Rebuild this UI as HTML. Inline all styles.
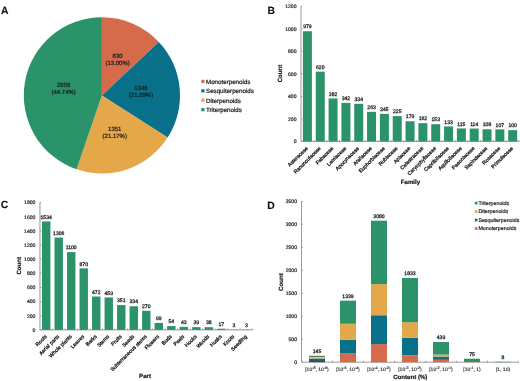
<!DOCTYPE html>
<html><head><meta charset="utf-8"><style>
html,body{margin:0;padding:0;background:#fff;}
svg{display:block;font-family:"Liberation Sans", sans-serif;will-change:transform;text-rendering:geometricPrecision;}
</style></head><body>
<svg width="520" height="381" viewBox="0 0 520 381">
<rect width="520" height="381" fill="#fff"/>
<text x="0.90" y="13.60" font-size="10.4" text-anchor="start" font-weight="bold" fill="#111" stroke="#111" stroke-width="0.1">A</text>
<path d="M101.9,95.4 L101.900,17.300 A78.1,78.1 0 0 1 158.844,41.949 Z" fill="#d56b4b"/>
<path d="M101.9,95.4 L158.844,41.949 A78.1,78.1 0 0 1 167.603,137.623 Z" fill="#087189"/>
<path d="M101.9,95.4 L167.603,137.623 A78.1,78.1 0 0 1 76.574,169.279 Z" fill="#e4a84b"/>
<path d="M101.9,95.4 L76.574,169.279 A78.1,78.1 0 0 1 101.900,17.300 Z" fill="#2b936a"/>
<text x="117.60" y="57.80" font-size="6.0" text-anchor="middle" font-weight="normal" fill="#1c1c1c" stroke="#1c1c1c" stroke-width="0.22">830</text>
<text x="117.60" y="64.90" font-size="6.0" text-anchor="middle" font-weight="normal" fill="#1c1c1c" stroke="#1c1c1c" stroke-width="0.22">(13.00%)</text>
<text x="141.00" y="90.00" font-size="6.0" text-anchor="middle" font-weight="normal" fill="#1c1c1c" stroke="#1c1c1c" stroke-width="0.22">1346</text>
<text x="141.00" y="97.10" font-size="6.0" text-anchor="middle" font-weight="normal" fill="#1c1c1c" stroke="#1c1c1c" stroke-width="0.22">(21.09%)</text>
<text x="114.80" y="130.60" font-size="6.0" text-anchor="middle" font-weight="normal" fill="#1c1c1c" stroke="#1c1c1c" stroke-width="0.22">1351</text>
<text x="114.80" y="137.70" font-size="6.0" text-anchor="middle" font-weight="normal" fill="#1c1c1c" stroke="#1c1c1c" stroke-width="0.22">(21.17%)</text>
<text x="63.70" y="87.30" font-size="6.0" text-anchor="middle" font-weight="normal" fill="#1c1c1c" stroke="#1c1c1c" stroke-width="0.22">2856</text>
<text x="63.70" y="94.40" font-size="6.0" text-anchor="middle" font-weight="normal" fill="#1c1c1c" stroke="#1c1c1c" stroke-width="0.22">(44.74%)</text>
<rect x="201.30" y="79.80" width="3.20" height="3.20" fill="#d56b4b"/>
<text x="206.00" y="83.70" font-size="6.2" text-anchor="start" font-weight="normal" fill="#1c1c1c" stroke="#1c1c1c" stroke-width="0.22">Monoterpenoids</text>
<rect x="201.30" y="89.23" width="3.20" height="3.20" fill="#087189"/>
<text x="206.00" y="93.13" font-size="6.2" text-anchor="start" font-weight="normal" fill="#1c1c1c" stroke="#1c1c1c" stroke-width="0.22">Sesquiterpenoids</text>
<rect x="201.30" y="98.66" width="3.20" height="3.20" fill="#e4a84b"/>
<text x="206.00" y="102.56" font-size="6.2" text-anchor="start" font-weight="normal" fill="#1c1c1c" stroke="#1c1c1c" stroke-width="0.22">Diterpenoids</text>
<rect x="201.30" y="108.09" width="3.20" height="3.20" fill="#2b936a"/>
<text x="206.00" y="111.99" font-size="6.2" text-anchor="start" font-weight="normal" fill="#1c1c1c" stroke="#1c1c1c" stroke-width="0.22">Triterpenoids</text>
<text x="267.40" y="13.60" font-size="10.4" text-anchor="start" font-weight="bold" fill="#111" stroke="#111" stroke-width="0.1">B</text>
<line x1="301.00" y1="6.40" x2="301.00" y2="141.40" stroke="#8f8f8f" stroke-width="0.9"/>
<line x1="301.00" y1="141.40" x2="519.11" y2="141.40" stroke="#8f8f8f" stroke-width="0.9"/>
<line x1="301.00" y1="141.40" x2="302.30" y2="141.40" stroke="#8f8f8f" stroke-width="0.9"/>
<text x="296.50" y="143.20" font-size="5.1" text-anchor="end" font-weight="normal" fill="#262626" stroke="#262626" stroke-width="0.2">0</text>
<line x1="301.00" y1="118.90" x2="302.30" y2="118.90" stroke="#8f8f8f" stroke-width="0.9"/>
<text x="296.50" y="120.70" font-size="5.1" text-anchor="end" font-weight="normal" fill="#262626" stroke="#262626" stroke-width="0.2">200</text>
<line x1="301.00" y1="96.40" x2="302.30" y2="96.40" stroke="#8f8f8f" stroke-width="0.9"/>
<text x="296.50" y="98.20" font-size="5.1" text-anchor="end" font-weight="normal" fill="#262626" stroke="#262626" stroke-width="0.2">400</text>
<line x1="301.00" y1="73.90" x2="302.30" y2="73.90" stroke="#8f8f8f" stroke-width="0.9"/>
<text x="296.50" y="75.70" font-size="5.1" text-anchor="end" font-weight="normal" fill="#262626" stroke="#262626" stroke-width="0.2">600</text>
<line x1="301.00" y1="51.40" x2="302.30" y2="51.40" stroke="#8f8f8f" stroke-width="0.9"/>
<text x="296.50" y="53.20" font-size="5.1" text-anchor="end" font-weight="normal" fill="#262626" stroke="#262626" stroke-width="0.2">800</text>
<line x1="301.00" y1="28.90" x2="302.30" y2="28.90" stroke="#8f8f8f" stroke-width="0.9"/>
<text x="296.50" y="30.70" font-size="5.1" text-anchor="end" font-weight="normal" fill="#262626" stroke="#262626" stroke-width="0.2">1000</text>
<line x1="301.00" y1="6.40" x2="302.30" y2="6.40" stroke="#8f8f8f" stroke-width="0.9"/>
<text x="296.50" y="8.20" font-size="5.1" text-anchor="end" font-weight="normal" fill="#262626" stroke="#262626" stroke-width="0.2">1200</text>
<line x1="313.83" y1="141.40" x2="313.83" y2="140.00" stroke="#8f8f8f" stroke-width="0.9"/>
<line x1="326.66" y1="141.40" x2="326.66" y2="140.00" stroke="#8f8f8f" stroke-width="0.9"/>
<line x1="339.49" y1="141.40" x2="339.49" y2="140.00" stroke="#8f8f8f" stroke-width="0.9"/>
<line x1="352.32" y1="141.40" x2="352.32" y2="140.00" stroke="#8f8f8f" stroke-width="0.9"/>
<line x1="365.15" y1="141.40" x2="365.15" y2="140.00" stroke="#8f8f8f" stroke-width="0.9"/>
<line x1="377.98" y1="141.40" x2="377.98" y2="140.00" stroke="#8f8f8f" stroke-width="0.9"/>
<line x1="390.81" y1="141.40" x2="390.81" y2="140.00" stroke="#8f8f8f" stroke-width="0.9"/>
<line x1="403.64" y1="141.40" x2="403.64" y2="140.00" stroke="#8f8f8f" stroke-width="0.9"/>
<line x1="416.47" y1="141.40" x2="416.47" y2="140.00" stroke="#8f8f8f" stroke-width="0.9"/>
<line x1="429.30" y1="141.40" x2="429.30" y2="140.00" stroke="#8f8f8f" stroke-width="0.9"/>
<line x1="442.13" y1="141.40" x2="442.13" y2="140.00" stroke="#8f8f8f" stroke-width="0.9"/>
<line x1="454.96" y1="141.40" x2="454.96" y2="140.00" stroke="#8f8f8f" stroke-width="0.9"/>
<line x1="467.79" y1="141.40" x2="467.79" y2="140.00" stroke="#8f8f8f" stroke-width="0.9"/>
<line x1="480.62" y1="141.40" x2="480.62" y2="140.00" stroke="#8f8f8f" stroke-width="0.9"/>
<line x1="493.45" y1="141.40" x2="493.45" y2="140.00" stroke="#8f8f8f" stroke-width="0.9"/>
<line x1="506.28" y1="141.40" x2="506.28" y2="140.00" stroke="#8f8f8f" stroke-width="0.9"/>
<line x1="519.11" y1="141.40" x2="519.11" y2="140.00" stroke="#8f8f8f" stroke-width="0.9"/>
<rect x="302.92" y="31.26" width="9.00" height="110.14" fill="#2b936a"/>
<text x="307.42" y="28.46" font-size="5.1" text-anchor="middle" font-weight="normal" fill="#1c1c1c" stroke="#1c1c1c" stroke-width="0.26">979</text>
<text x="308.22" y="148.60" font-size="5.15" text-anchor="end" font-weight="normal" fill="#1c1c1c" stroke="#1c1c1c" stroke-width="0.3" transform="rotate(-45 308.22 148.60)">Asteraceae</text>
<rect x="315.75" y="71.65" width="9.00" height="69.75" fill="#2b936a"/>
<text x="320.25" y="68.85" font-size="5.1" text-anchor="middle" font-weight="normal" fill="#1c1c1c" stroke="#1c1c1c" stroke-width="0.26">620</text>
<text x="321.05" y="148.60" font-size="5.15" text-anchor="end" font-weight="normal" fill="#1c1c1c" stroke="#1c1c1c" stroke-width="0.3" transform="rotate(-45 321.05 148.60)">Ranunculaceae</text>
<rect x="328.58" y="98.43" width="9.00" height="42.98" fill="#2b936a"/>
<text x="333.08" y="95.63" font-size="5.1" text-anchor="middle" font-weight="normal" fill="#1c1c1c" stroke="#1c1c1c" stroke-width="0.26">382</text>
<text x="333.88" y="148.60" font-size="5.15" text-anchor="end" font-weight="normal" fill="#1c1c1c" stroke="#1c1c1c" stroke-width="0.3" transform="rotate(-45 333.88 148.60)">Fabaceae</text>
<rect x="341.41" y="102.93" width="9.00" height="38.48" fill="#2b936a"/>
<text x="345.91" y="100.13" font-size="5.1" text-anchor="middle" font-weight="normal" fill="#1c1c1c" stroke="#1c1c1c" stroke-width="0.26">342</text>
<text x="346.71" y="148.60" font-size="5.15" text-anchor="end" font-weight="normal" fill="#1c1c1c" stroke="#1c1c1c" stroke-width="0.3" transform="rotate(-45 346.71 148.60)">Lamiaceae</text>
<rect x="354.24" y="103.83" width="9.00" height="37.58" fill="#2b936a"/>
<text x="358.74" y="101.03" font-size="5.1" text-anchor="middle" font-weight="normal" fill="#1c1c1c" stroke="#1c1c1c" stroke-width="0.26">334</text>
<text x="359.54" y="148.60" font-size="5.15" text-anchor="end" font-weight="normal" fill="#1c1c1c" stroke="#1c1c1c" stroke-width="0.3" transform="rotate(-45 359.54 148.60)">Apocynaceae</text>
<rect x="367.06" y="111.81" width="9.00" height="29.59" fill="#2b936a"/>
<text x="371.56" y="109.01" font-size="5.1" text-anchor="middle" font-weight="normal" fill="#1c1c1c" stroke="#1c1c1c" stroke-width="0.26">263</text>
<text x="372.37" y="148.60" font-size="5.15" text-anchor="end" font-weight="normal" fill="#1c1c1c" stroke="#1c1c1c" stroke-width="0.3" transform="rotate(-45 372.37 148.60)">Araliaceae</text>
<rect x="379.90" y="113.84" width="9.00" height="27.56" fill="#2b936a"/>
<text x="384.40" y="111.04" font-size="5.1" text-anchor="middle" font-weight="normal" fill="#1c1c1c" stroke="#1c1c1c" stroke-width="0.26">245</text>
<text x="385.20" y="148.60" font-size="5.15" text-anchor="end" font-weight="normal" fill="#1c1c1c" stroke="#1c1c1c" stroke-width="0.3" transform="rotate(-45 385.20 148.60)">Euphorbiaceae</text>
<rect x="392.73" y="116.09" width="9.00" height="25.31" fill="#2b936a"/>
<text x="397.23" y="113.29" font-size="5.1" text-anchor="middle" font-weight="normal" fill="#1c1c1c" stroke="#1c1c1c" stroke-width="0.26">225</text>
<text x="398.03" y="148.60" font-size="5.15" text-anchor="end" font-weight="normal" fill="#1c1c1c" stroke="#1c1c1c" stroke-width="0.3" transform="rotate(-45 398.03 148.60)">Rubiaceae</text>
<rect x="405.56" y="121.26" width="9.00" height="20.14" fill="#2b936a"/>
<text x="410.06" y="118.46" font-size="5.1" text-anchor="middle" font-weight="normal" fill="#1c1c1c" stroke="#1c1c1c" stroke-width="0.26">179</text>
<text x="410.86" y="148.60" font-size="5.15" text-anchor="end" font-weight="normal" fill="#1c1c1c" stroke="#1c1c1c" stroke-width="0.3" transform="rotate(-45 410.86 148.60)">Apiaceae</text>
<rect x="418.39" y="123.18" width="9.00" height="18.23" fill="#2b936a"/>
<text x="422.89" y="120.38" font-size="5.1" text-anchor="middle" font-weight="normal" fill="#1c1c1c" stroke="#1c1c1c" stroke-width="0.26">162</text>
<text x="423.69" y="148.60" font-size="5.15" text-anchor="end" font-weight="normal" fill="#1c1c1c" stroke="#1c1c1c" stroke-width="0.3" transform="rotate(-45 423.69 148.60)">Celastraceae</text>
<rect x="431.22" y="124.19" width="9.00" height="17.21" fill="#2b936a"/>
<text x="435.72" y="121.39" font-size="5.1" text-anchor="middle" font-weight="normal" fill="#1c1c1c" stroke="#1c1c1c" stroke-width="0.26">153</text>
<text x="436.52" y="148.60" font-size="5.15" text-anchor="end" font-weight="normal" fill="#1c1c1c" stroke="#1c1c1c" stroke-width="0.3" transform="rotate(-45 436.52 148.60)">Caryophyllaceae</text>
<rect x="444.05" y="126.44" width="9.00" height="14.96" fill="#2b936a"/>
<text x="448.55" y="123.64" font-size="5.1" text-anchor="middle" font-weight="normal" fill="#1c1c1c" stroke="#1c1c1c" stroke-width="0.26">133</text>
<text x="449.35" y="148.60" font-size="5.15" text-anchor="end" font-weight="normal" fill="#1c1c1c" stroke="#1c1c1c" stroke-width="0.3" transform="rotate(-45 449.35 148.60)">Caprifoliaceae</text>
<rect x="456.88" y="128.46" width="9.00" height="12.94" fill="#2b936a"/>
<text x="461.38" y="125.66" font-size="5.1" text-anchor="middle" font-weight="normal" fill="#1c1c1c" stroke="#1c1c1c" stroke-width="0.26">115</text>
<text x="462.18" y="148.60" font-size="5.15" text-anchor="end" font-weight="normal" fill="#1c1c1c" stroke="#1c1c1c" stroke-width="0.3" transform="rotate(-45 462.18 148.60)">Aquifoliaceae</text>
<rect x="469.70" y="128.58" width="9.00" height="12.83" fill="#2b936a"/>
<text x="474.20" y="125.78" font-size="5.1" text-anchor="middle" font-weight="normal" fill="#1c1c1c" stroke="#1c1c1c" stroke-width="0.26">114</text>
<text x="475.00" y="148.60" font-size="5.15" text-anchor="end" font-weight="normal" fill="#1c1c1c" stroke="#1c1c1c" stroke-width="0.3" transform="rotate(-45 475.00 148.60)">Paeoniaceae</text>
<rect x="482.54" y="129.25" width="9.00" height="12.15" fill="#2b936a"/>
<text x="487.04" y="126.45" font-size="5.1" text-anchor="middle" font-weight="normal" fill="#1c1c1c" stroke="#1c1c1c" stroke-width="0.26">108</text>
<text x="487.84" y="148.60" font-size="5.15" text-anchor="end" font-weight="normal" fill="#1c1c1c" stroke="#1c1c1c" stroke-width="0.3" transform="rotate(-45 487.84 148.60)">Sapindaceae</text>
<rect x="495.37" y="129.36" width="9.00" height="12.04" fill="#2b936a"/>
<text x="499.87" y="126.56" font-size="5.1" text-anchor="middle" font-weight="normal" fill="#1c1c1c" stroke="#1c1c1c" stroke-width="0.26">107</text>
<text x="500.67" y="148.60" font-size="5.15" text-anchor="end" font-weight="normal" fill="#1c1c1c" stroke="#1c1c1c" stroke-width="0.3" transform="rotate(-45 500.67 148.60)">Rosaceae</text>
<rect x="508.19" y="130.15" width="9.00" height="11.25" fill="#2b936a"/>
<text x="512.69" y="127.35" font-size="5.1" text-anchor="middle" font-weight="normal" fill="#1c1c1c" stroke="#1c1c1c" stroke-width="0.26">100</text>
<text x="513.49" y="148.60" font-size="5.15" text-anchor="end" font-weight="normal" fill="#1c1c1c" stroke="#1c1c1c" stroke-width="0.3" transform="rotate(-45 513.49 148.60)">Primulaceae</text>
<text x="282.10" y="73.50" font-size="6.1" text-anchor="middle" font-weight="bold" fill="#111" stroke="#111" stroke-width="0.18" transform="rotate(-90 282.10 73.50)">Count</text>
<text x="410.50" y="184.10" font-size="6.1" text-anchor="middle" font-weight="bold" fill="#111" stroke="#111" stroke-width="0.18">Family</text>
<text x="0.70" y="208.30" font-size="10.4" text-anchor="start" font-weight="bold" fill="#111" stroke="#111" stroke-width="0.1">C</text>
<line x1="39.95" y1="202.60" x2="39.95" y2="329.90" stroke="#8f8f8f" stroke-width="0.9"/>
<line x1="39.95" y1="329.90" x2="252.62" y2="329.90" stroke="#8f8f8f" stroke-width="0.9"/>
<line x1="39.95" y1="329.90" x2="41.25" y2="329.90" stroke="#8f8f8f" stroke-width="0.9"/>
<text x="35.45" y="331.70" font-size="5.1" text-anchor="end" font-weight="normal" fill="#262626" stroke="#262626" stroke-width="0.2">0</text>
<line x1="39.95" y1="315.76" x2="41.25" y2="315.76" stroke="#8f8f8f" stroke-width="0.9"/>
<text x="35.45" y="317.56" font-size="5.1" text-anchor="end" font-weight="normal" fill="#262626" stroke="#262626" stroke-width="0.2">200</text>
<line x1="39.95" y1="301.61" x2="41.25" y2="301.61" stroke="#8f8f8f" stroke-width="0.9"/>
<text x="35.45" y="303.41" font-size="5.1" text-anchor="end" font-weight="normal" fill="#262626" stroke="#262626" stroke-width="0.2">400</text>
<line x1="39.95" y1="287.47" x2="41.25" y2="287.47" stroke="#8f8f8f" stroke-width="0.9"/>
<text x="35.45" y="289.27" font-size="5.1" text-anchor="end" font-weight="normal" fill="#262626" stroke="#262626" stroke-width="0.2">600</text>
<line x1="39.95" y1="273.32" x2="41.25" y2="273.32" stroke="#8f8f8f" stroke-width="0.9"/>
<text x="35.45" y="275.12" font-size="5.1" text-anchor="end" font-weight="normal" fill="#262626" stroke="#262626" stroke-width="0.2">800</text>
<line x1="39.95" y1="259.18" x2="41.25" y2="259.18" stroke="#8f8f8f" stroke-width="0.9"/>
<text x="35.45" y="260.98" font-size="5.1" text-anchor="end" font-weight="normal" fill="#262626" stroke="#262626" stroke-width="0.2">1000</text>
<line x1="39.95" y1="245.03" x2="41.25" y2="245.03" stroke="#8f8f8f" stroke-width="0.9"/>
<text x="35.45" y="246.83" font-size="5.1" text-anchor="end" font-weight="normal" fill="#262626" stroke="#262626" stroke-width="0.2">1200</text>
<line x1="39.95" y1="230.89" x2="41.25" y2="230.89" stroke="#8f8f8f" stroke-width="0.9"/>
<text x="35.45" y="232.69" font-size="5.1" text-anchor="end" font-weight="normal" fill="#262626" stroke="#262626" stroke-width="0.2">1400</text>
<line x1="39.95" y1="216.74" x2="41.25" y2="216.74" stroke="#8f8f8f" stroke-width="0.9"/>
<text x="35.45" y="218.54" font-size="5.1" text-anchor="end" font-weight="normal" fill="#262626" stroke="#262626" stroke-width="0.2">1600</text>
<line x1="39.95" y1="202.60" x2="41.25" y2="202.60" stroke="#8f8f8f" stroke-width="0.9"/>
<text x="35.45" y="204.40" font-size="5.1" text-anchor="end" font-weight="normal" fill="#262626" stroke="#262626" stroke-width="0.2">1800</text>
<line x1="52.46" y1="329.90" x2="52.46" y2="328.50" stroke="#8f8f8f" stroke-width="0.9"/>
<line x1="64.97" y1="329.90" x2="64.97" y2="328.50" stroke="#8f8f8f" stroke-width="0.9"/>
<line x1="77.48" y1="329.90" x2="77.48" y2="328.50" stroke="#8f8f8f" stroke-width="0.9"/>
<line x1="89.99" y1="329.90" x2="89.99" y2="328.50" stroke="#8f8f8f" stroke-width="0.9"/>
<line x1="102.50" y1="329.90" x2="102.50" y2="328.50" stroke="#8f8f8f" stroke-width="0.9"/>
<line x1="115.01" y1="329.90" x2="115.01" y2="328.50" stroke="#8f8f8f" stroke-width="0.9"/>
<line x1="127.52" y1="329.90" x2="127.52" y2="328.50" stroke="#8f8f8f" stroke-width="0.9"/>
<line x1="140.03" y1="329.90" x2="140.03" y2="328.50" stroke="#8f8f8f" stroke-width="0.9"/>
<line x1="152.54" y1="329.90" x2="152.54" y2="328.50" stroke="#8f8f8f" stroke-width="0.9"/>
<line x1="165.05" y1="329.90" x2="165.05" y2="328.50" stroke="#8f8f8f" stroke-width="0.9"/>
<line x1="177.56" y1="329.90" x2="177.56" y2="328.50" stroke="#8f8f8f" stroke-width="0.9"/>
<line x1="190.07" y1="329.90" x2="190.07" y2="328.50" stroke="#8f8f8f" stroke-width="0.9"/>
<line x1="202.58" y1="329.90" x2="202.58" y2="328.50" stroke="#8f8f8f" stroke-width="0.9"/>
<line x1="215.09" y1="329.90" x2="215.09" y2="328.50" stroke="#8f8f8f" stroke-width="0.9"/>
<line x1="227.60" y1="329.90" x2="227.60" y2="328.50" stroke="#8f8f8f" stroke-width="0.9"/>
<line x1="240.11" y1="329.90" x2="240.11" y2="328.50" stroke="#8f8f8f" stroke-width="0.9"/>
<line x1="252.62" y1="329.90" x2="252.62" y2="328.50" stroke="#8f8f8f" stroke-width="0.9"/>
<rect x="42.01" y="221.41" width="8.40" height="108.49" fill="#2b936a"/>
<text x="46.21" y="218.61" font-size="5.1" text-anchor="middle" font-weight="normal" fill="#1c1c1c" stroke="#1c1c1c" stroke-width="0.26">1534</text>
<text x="47.01" y="337.00" font-size="5.15" text-anchor="end" font-weight="normal" fill="#1c1c1c" stroke="#1c1c1c" stroke-width="0.3" transform="rotate(-45 47.01 337.00)">Roots</text>
<rect x="54.52" y="237.54" width="8.40" height="92.36" fill="#2b936a"/>
<text x="58.72" y="234.74" font-size="5.1" text-anchor="middle" font-weight="normal" fill="#1c1c1c" stroke="#1c1c1c" stroke-width="0.26">1306</text>
<text x="59.52" y="337.00" font-size="5.15" text-anchor="end" font-weight="normal" fill="#1c1c1c" stroke="#1c1c1c" stroke-width="0.3" transform="rotate(-45 59.52 337.00)">Aerial parts</text>
<rect x="67.03" y="252.11" width="8.40" height="77.79" fill="#2b936a"/>
<text x="71.23" y="249.31" font-size="5.1" text-anchor="middle" font-weight="normal" fill="#1c1c1c" stroke="#1c1c1c" stroke-width="0.26">1100</text>
<text x="72.03" y="337.00" font-size="5.15" text-anchor="end" font-weight="normal" fill="#1c1c1c" stroke="#1c1c1c" stroke-width="0.3" transform="rotate(-45 72.03 337.00)">Whole plants</text>
<rect x="79.53" y="268.37" width="8.40" height="61.53" fill="#2b936a"/>
<text x="83.73" y="265.57" font-size="5.1" text-anchor="middle" font-weight="normal" fill="#1c1c1c" stroke="#1c1c1c" stroke-width="0.26">870</text>
<text x="84.53" y="337.00" font-size="5.15" text-anchor="end" font-weight="normal" fill="#1c1c1c" stroke="#1c1c1c" stroke-width="0.3" transform="rotate(-45 84.53 337.00)">Leaves</text>
<rect x="92.05" y="296.52" width="8.40" height="33.38" fill="#2b936a"/>
<text x="96.25" y="293.72" font-size="5.1" text-anchor="middle" font-weight="normal" fill="#1c1c1c" stroke="#1c1c1c" stroke-width="0.26">472</text>
<text x="97.05" y="337.00" font-size="5.15" text-anchor="end" font-weight="normal" fill="#1c1c1c" stroke="#1c1c1c" stroke-width="0.3" transform="rotate(-45 97.05 337.00)">Barks</text>
<rect x="104.56" y="297.44" width="8.40" height="32.46" fill="#2b936a"/>
<text x="108.76" y="294.64" font-size="5.1" text-anchor="middle" font-weight="normal" fill="#1c1c1c" stroke="#1c1c1c" stroke-width="0.26">459</text>
<text x="109.56" y="337.00" font-size="5.15" text-anchor="end" font-weight="normal" fill="#1c1c1c" stroke="#1c1c1c" stroke-width="0.3" transform="rotate(-45 109.56 337.00)">Stems</text>
<rect x="117.06" y="305.08" width="8.40" height="24.82" fill="#2b936a"/>
<text x="121.27" y="302.28" font-size="5.1" text-anchor="middle" font-weight="normal" fill="#1c1c1c" stroke="#1c1c1c" stroke-width="0.26">351</text>
<text x="122.06" y="337.00" font-size="5.15" text-anchor="end" font-weight="normal" fill="#1c1c1c" stroke="#1c1c1c" stroke-width="0.3" transform="rotate(-45 122.06 337.00)">Fruits</text>
<rect x="129.57" y="306.28" width="8.40" height="23.62" fill="#2b936a"/>
<text x="133.77" y="303.48" font-size="5.1" text-anchor="middle" font-weight="normal" fill="#1c1c1c" stroke="#1c1c1c" stroke-width="0.26">334</text>
<text x="134.57" y="337.00" font-size="5.15" text-anchor="end" font-weight="normal" fill="#1c1c1c" stroke="#1c1c1c" stroke-width="0.3" transform="rotate(-45 134.57 337.00)">Seeds</text>
<rect x="142.09" y="310.80" width="8.40" height="19.09" fill="#2b936a"/>
<text x="146.28" y="308.00" font-size="5.1" text-anchor="middle" font-weight="normal" fill="#1c1c1c" stroke="#1c1c1c" stroke-width="0.26">270</text>
<text x="147.09" y="337.00" font-size="5.15" text-anchor="end" font-weight="normal" fill="#1c1c1c" stroke="#1c1c1c" stroke-width="0.3" transform="rotate(-45 147.09 337.00)">Subterraneous stems</text>
<rect x="154.60" y="322.90" width="8.40" height="7.00" fill="#2b936a"/>
<text x="158.80" y="320.10" font-size="5.1" text-anchor="middle" font-weight="normal" fill="#1c1c1c" stroke="#1c1c1c" stroke-width="0.26">99</text>
<text x="159.60" y="337.00" font-size="5.15" text-anchor="end" font-weight="normal" fill="#1c1c1c" stroke="#1c1c1c" stroke-width="0.3" transform="rotate(-45 159.60 337.00)">Flowers</text>
<rect x="167.11" y="326.08" width="8.40" height="3.82" fill="#2b936a"/>
<text x="171.31" y="323.28" font-size="5.1" text-anchor="middle" font-weight="normal" fill="#1c1c1c" stroke="#1c1c1c" stroke-width="0.26">54</text>
<text x="172.11" y="337.00" font-size="5.15" text-anchor="end" font-weight="normal" fill="#1c1c1c" stroke="#1c1c1c" stroke-width="0.3" transform="rotate(-45 172.11 337.00)">Buds</text>
<rect x="179.62" y="326.86" width="8.40" height="3.04" fill="#2b936a"/>
<text x="183.81" y="324.06" font-size="5.1" text-anchor="middle" font-weight="normal" fill="#1c1c1c" stroke="#1c1c1c" stroke-width="0.26">43</text>
<text x="184.62" y="337.00" font-size="5.15" text-anchor="end" font-weight="normal" fill="#1c1c1c" stroke="#1c1c1c" stroke-width="0.3" transform="rotate(-45 184.62 337.00)">Peels</text>
<rect x="192.12" y="327.14" width="8.40" height="2.76" fill="#2b936a"/>
<text x="196.32" y="324.34" font-size="5.1" text-anchor="middle" font-weight="normal" fill="#1c1c1c" stroke="#1c1c1c" stroke-width="0.26">39</text>
<text x="197.12" y="337.00" font-size="5.15" text-anchor="end" font-weight="normal" fill="#1c1c1c" stroke="#1c1c1c" stroke-width="0.3" transform="rotate(-45 197.12 337.00)">Hooks</text>
<rect x="204.63" y="327.21" width="8.40" height="2.69" fill="#2b936a"/>
<text x="208.83" y="324.41" font-size="5.1" text-anchor="middle" font-weight="normal" fill="#1c1c1c" stroke="#1c1c1c" stroke-width="0.26">38</text>
<text x="209.63" y="337.00" font-size="5.15" text-anchor="end" font-weight="normal" fill="#1c1c1c" stroke="#1c1c1c" stroke-width="0.3" transform="rotate(-45 209.63 337.00)">Woods</text>
<rect x="217.14" y="328.70" width="8.40" height="1.20" fill="#2b936a"/>
<text x="221.34" y="325.90" font-size="5.1" text-anchor="middle" font-weight="normal" fill="#1c1c1c" stroke="#1c1c1c" stroke-width="0.26">17</text>
<text x="222.14" y="337.00" font-size="5.15" text-anchor="end" font-weight="normal" fill="#1c1c1c" stroke="#1c1c1c" stroke-width="0.3" transform="rotate(-45 222.14 337.00)">Husks</text>
<rect x="229.66" y="329.69" width="8.40" height="0.21" fill="#2b936a"/>
<text x="233.86" y="326.89" font-size="5.1" text-anchor="middle" font-weight="normal" fill="#1c1c1c" stroke="#1c1c1c" stroke-width="0.26">3</text>
<text x="234.66" y="337.00" font-size="5.15" text-anchor="end" font-weight="normal" fill="#1c1c1c" stroke="#1c1c1c" stroke-width="0.3" transform="rotate(-45 234.66 337.00)">Knots</text>
<rect x="242.17" y="329.69" width="8.40" height="0.21" fill="#2b936a"/>
<text x="246.37" y="326.89" font-size="5.1" text-anchor="middle" font-weight="normal" fill="#1c1c1c" stroke="#1c1c1c" stroke-width="0.26">3</text>
<text x="247.17" y="337.00" font-size="5.15" text-anchor="end" font-weight="normal" fill="#1c1c1c" stroke="#1c1c1c" stroke-width="0.3" transform="rotate(-45 247.17 337.00)">Seedling</text>
<text x="20.90" y="265.80" font-size="6.1" text-anchor="middle" font-weight="bold" fill="#111" stroke="#111" stroke-width="0.18" transform="rotate(-90 20.90 265.80)">Count</text>
<text x="145.00" y="377.70" font-size="6.1" text-anchor="middle" font-weight="bold" fill="#111" stroke="#111" stroke-width="0.18">Part</text>
<text x="267.30" y="209.20" font-size="10.4" text-anchor="start" font-weight="bold" fill="#111" stroke="#111" stroke-width="0.1">D</text>
<line x1="301.50" y1="201.40" x2="301.50" y2="362.20" stroke="#8f8f8f" stroke-width="0.9"/>
<line x1="301.50" y1="362.20" x2="518.50" y2="362.20" stroke="#8f8f8f" stroke-width="0.9"/>
<line x1="301.50" y1="362.20" x2="302.80" y2="362.20" stroke="#8f8f8f" stroke-width="0.9"/>
<text x="297.00" y="364.00" font-size="5.1" text-anchor="end" font-weight="normal" fill="#262626" stroke="#262626" stroke-width="0.2">0</text>
<line x1="301.50" y1="339.23" x2="302.80" y2="339.23" stroke="#8f8f8f" stroke-width="0.9"/>
<text x="297.00" y="341.03" font-size="5.1" text-anchor="end" font-weight="normal" fill="#262626" stroke="#262626" stroke-width="0.2">500</text>
<line x1="301.50" y1="316.26" x2="302.80" y2="316.26" stroke="#8f8f8f" stroke-width="0.9"/>
<text x="297.00" y="318.06" font-size="5.1" text-anchor="end" font-weight="normal" fill="#262626" stroke="#262626" stroke-width="0.2">1000</text>
<line x1="301.50" y1="293.29" x2="302.80" y2="293.29" stroke="#8f8f8f" stroke-width="0.9"/>
<text x="297.00" y="295.09" font-size="5.1" text-anchor="end" font-weight="normal" fill="#262626" stroke="#262626" stroke-width="0.2">1500</text>
<line x1="301.50" y1="270.31" x2="302.80" y2="270.31" stroke="#8f8f8f" stroke-width="0.9"/>
<text x="297.00" y="272.11" font-size="5.1" text-anchor="end" font-weight="normal" fill="#262626" stroke="#262626" stroke-width="0.2">2000</text>
<line x1="301.50" y1="247.34" x2="302.80" y2="247.34" stroke="#8f8f8f" stroke-width="0.9"/>
<text x="297.00" y="249.14" font-size="5.1" text-anchor="end" font-weight="normal" fill="#262626" stroke="#262626" stroke-width="0.2">2500</text>
<line x1="301.50" y1="224.37" x2="302.80" y2="224.37" stroke="#8f8f8f" stroke-width="0.9"/>
<text x="297.00" y="226.17" font-size="5.1" text-anchor="end" font-weight="normal" fill="#262626" stroke="#262626" stroke-width="0.2">3000</text>
<line x1="301.50" y1="201.40" x2="302.80" y2="201.40" stroke="#8f8f8f" stroke-width="0.9"/>
<text x="297.00" y="203.20" font-size="5.1" text-anchor="end" font-weight="normal" fill="#262626" stroke="#262626" stroke-width="0.2">3500</text>
<line x1="332.50" y1="362.20" x2="332.50" y2="360.80" stroke="#8f8f8f" stroke-width="0.9"/>
<line x1="363.50" y1="362.20" x2="363.50" y2="360.80" stroke="#8f8f8f" stroke-width="0.9"/>
<line x1="394.50" y1="362.20" x2="394.50" y2="360.80" stroke="#8f8f8f" stroke-width="0.9"/>
<line x1="425.50" y1="362.20" x2="425.50" y2="360.80" stroke="#8f8f8f" stroke-width="0.9"/>
<line x1="456.50" y1="362.20" x2="456.50" y2="360.80" stroke="#8f8f8f" stroke-width="0.9"/>
<line x1="487.50" y1="362.20" x2="487.50" y2="360.80" stroke="#8f8f8f" stroke-width="0.9"/>
<line x1="518.50" y1="362.20" x2="518.50" y2="360.80" stroke="#8f8f8f" stroke-width="0.9"/>
<rect x="309.00" y="355.80" width="16.00" height="1.10" fill="#2f6e44"/>
<rect x="309.00" y="356.90" width="16.00" height="1.90" fill="#c9d08c"/>
<rect x="309.00" y="358.80" width="16.00" height="1.10" fill="#3e3f33"/>
<rect x="309.00" y="359.90" width="16.00" height="2.30" fill="#34506e"/>
<text x="317.00" y="352.54" font-size="5.1" text-anchor="middle" font-weight="normal" fill="#1c1c1c" stroke="#1c1c1c" stroke-width="0.26">145</text>
<text x="317.00" y="371.00" font-size="5.0" text-anchor="middle" font-weight="normal" fill="#1c1c1c" stroke="#1c1c1c" stroke-width="0.12">[10<tspan dy="-2" font-size="3.7">-8</tspan><tspan dy="2">, 10</tspan><tspan dy="-2" font-size="3.7">-6</tspan><tspan dy="2">)</tspan></text>
<rect x="340.00" y="353.15" width="16.00" height="9.05" fill="#d56b4b"/>
<rect x="340.00" y="339.78" width="16.00" height="13.37" fill="#087189"/>
<rect x="340.00" y="323.79" width="16.00" height="15.99" fill="#e4a84b"/>
<rect x="340.00" y="300.68" width="16.00" height="23.11" fill="#2b936a"/>
<text x="348.00" y="297.68" font-size="5.1" text-anchor="middle" font-weight="normal" fill="#1c1c1c" stroke="#1c1c1c" stroke-width="0.26">1339</text>
<text x="348.00" y="371.00" font-size="5.0" text-anchor="middle" font-weight="normal" fill="#1c1c1c" stroke="#1c1c1c" stroke-width="0.12">[10<tspan dy="-2" font-size="3.7">-6</tspan><tspan dy="2">, 10</tspan><tspan dy="-2" font-size="3.7">-4</tspan><tspan dy="2">)</tspan></text>
<rect x="371.00" y="344.10" width="16.00" height="18.10" fill="#d56b4b"/>
<rect x="371.00" y="315.25" width="16.00" height="28.85" fill="#087189"/>
<rect x="371.00" y="284.10" width="16.00" height="31.15" fill="#e4a84b"/>
<rect x="371.00" y="220.70" width="16.00" height="63.40" fill="#2b936a"/>
<text x="379.00" y="217.70" font-size="5.1" text-anchor="middle" font-weight="normal" fill="#1c1c1c" stroke="#1c1c1c" stroke-width="0.26">3080</text>
<text x="379.00" y="371.00" font-size="5.0" text-anchor="middle" font-weight="normal" fill="#1c1c1c" stroke="#1c1c1c" stroke-width="0.12">[10<tspan dy="-2" font-size="3.7">-4</tspan><tspan dy="2">, 10</tspan><tspan dy="-2" font-size="3.7">-3</tspan><tspan dy="2">)</tspan></text>
<rect x="402.00" y="355.26" width="16.00" height="6.94" fill="#d56b4b"/>
<rect x="402.00" y="337.76" width="16.00" height="17.50" fill="#087189"/>
<rect x="402.00" y="322.28" width="16.00" height="15.48" fill="#e4a84b"/>
<rect x="402.00" y="277.99" width="16.00" height="44.29" fill="#2b936a"/>
<text x="410.00" y="274.99" font-size="5.1" text-anchor="middle" font-weight="normal" fill="#1c1c1c" stroke="#1c1c1c" stroke-width="0.26">1833</text>
<text x="410.00" y="371.00" font-size="5.0" text-anchor="middle" font-weight="normal" fill="#1c1c1c" stroke="#1c1c1c" stroke-width="0.12">[10<tspan dy="-2" font-size="3.7">-3</tspan><tspan dy="2">, 10</tspan><tspan dy="-2" font-size="3.7">-2</tspan><tspan dy="2">)</tspan></text>
<rect x="433.00" y="359.81" width="16.00" height="2.39" fill="#d56b4b"/>
<rect x="433.00" y="356.59" width="16.00" height="3.22" fill="#087189"/>
<rect x="433.00" y="354.57" width="16.00" height="2.02" fill="#e4a84b"/>
<rect x="433.00" y="342.03" width="16.00" height="12.54" fill="#2b936a"/>
<text x="441.00" y="339.03" font-size="5.1" text-anchor="middle" font-weight="normal" fill="#1c1c1c" stroke="#1c1c1c" stroke-width="0.26">439</text>
<text x="441.00" y="371.00" font-size="5.0" text-anchor="middle" font-weight="normal" fill="#1c1c1c" stroke="#1c1c1c" stroke-width="0.12">[10<tspan dy="-2" font-size="3.7">-2</tspan><tspan dy="2">, 10</tspan><tspan dy="-2" font-size="3.7">-1</tspan><tspan dy="2">)</tspan></text>
<rect x="464.00" y="361.97" width="16.00" height="0.23" fill="#e4a84b"/>
<rect x="464.00" y="358.75" width="16.00" height="3.22" fill="#2b936a"/>
<text x="472.00" y="355.75" font-size="5.1" text-anchor="middle" font-weight="normal" fill="#1c1c1c" stroke="#1c1c1c" stroke-width="0.26">75</text>
<text x="472.00" y="371.00" font-size="5.0" text-anchor="middle" font-weight="normal" fill="#1c1c1c" stroke="#1c1c1c" stroke-width="0.12">[10<tspan dy="-2" font-size="3.7">-1</tspan><tspan dy="2">, 1)</tspan></text>
<rect x="495.00" y="361.83" width="16.00" height="0.37" fill="#2b936a"/>
<text x="503.00" y="358.83" font-size="5.1" text-anchor="middle" font-weight="normal" fill="#1c1c1c" stroke="#1c1c1c" stroke-width="0.26">8</text>
<text x="503.00" y="371.00" font-size="5.0" text-anchor="middle" font-weight="normal" fill="#1c1c1c" stroke="#1c1c1c" stroke-width="0.12">[1, 10)</text>
<text x="410.30" y="378.90" font-size="6.1" text-anchor="middle" font-weight="bold" fill="#111" stroke="#111" stroke-width="0.18">Content (%)</text>
<rect x="474.80" y="201.75" width="2.70" height="2.70" fill="#2b936a"/>
<text x="478.40" y="204.95" font-size="5.3" text-anchor="start" font-weight="normal" fill="#1c1c1c" stroke="#1c1c1c" stroke-width="0.2">Triterpenoids</text>
<rect x="474.80" y="210.22" width="2.70" height="2.70" fill="#e4a84b"/>
<text x="478.40" y="213.42" font-size="5.3" text-anchor="start" font-weight="normal" fill="#1c1c1c" stroke="#1c1c1c" stroke-width="0.2">Diterpenoids</text>
<rect x="474.80" y="218.69" width="2.70" height="2.70" fill="#087189"/>
<text x="478.40" y="221.89" font-size="5.3" text-anchor="start" font-weight="normal" fill="#1c1c1c" stroke="#1c1c1c" stroke-width="0.2">Sesquiterpenoids</text>
<rect x="474.80" y="227.16" width="2.70" height="2.70" fill="#d56b4b"/>
<text x="478.40" y="230.36" font-size="5.3" text-anchor="start" font-weight="normal" fill="#1c1c1c" stroke="#1c1c1c" stroke-width="0.2">Monoterpenoids</text>
<text x="283.00" y="282.10" font-size="6.1" text-anchor="middle" font-weight="bold" fill="#111" stroke="#111" stroke-width="0.18" transform="rotate(-90 283.00 282.10)">Count</text>
</svg>
</body></html>
